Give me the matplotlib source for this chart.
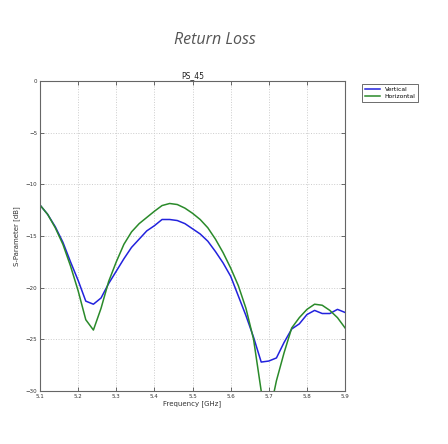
import numpy as np
from matplotlib import pyplot as plt

freq = [5.10, 5.12, 5.14, 5.16, 5.18, 5.20, 5.22, 5.24, 5.26, 5.28,
        5.30, 5.32, 5.34, 5.36, 5.38, 5.40, 5.42, 5.44, 5.46, 5.48,
        5.50, 5.52, 5.54, 5.56, 5.58, 5.60, 5.62, 5.64, 5.66, 5.68,
        5.70, 5.72, 5.74, 5.76, 5.78, 5.80, 5.82, 5.84, 5.86, 5.88, 5.90]

vertical = [-12.0, -12.9, -14.1, -15.6, -17.5, -19.3, -21.3, -21.6, -21.0, -19.6,
            -18.4, -17.2, -16.1, -15.3, -14.5, -14.0, -13.4, -13.4, -13.5, -13.8,
            -14.3, -14.8, -15.5, -16.5, -17.6, -18.9, -20.8, -22.7, -24.8, -27.2,
            -27.1, -26.8, -25.3, -24.0, -23.5, -22.6, -22.2, -22.5, -22.5, -22.1, -22.4]

horizontal = [-12.0, -12.9, -14.2, -15.8, -17.9, -20.3, -23.1, -24.1, -22.0, -19.4,
              -17.5, -15.8, -14.6, -13.8, -13.2, -12.6, -12.05, -11.85, -11.95, -12.3,
              -12.8, -13.4, -14.2, -15.3, -16.6, -18.1, -19.8, -22.0, -25.0, -30.0,
              -32.5, -29.0, -26.3, -23.9, -22.9, -22.1, -21.6, -21.7, -22.2, -22.9, -23.9]

xticks = [5.1, 5.2, 5.3, 5.4, 5.5, 5.6, 5.7, 5.8, 5.9]
yticks = [0, -5, -10, -15, -20, -25, -30]

fig = plt.figure(figsize=(4.48, 4.44), dpi=100)
fig.text(0.48, 0.91, "Return Loss", fontsize=11.5, style='italic',
         family='Open Sans', color='#555555', ha='center', va='center')

ax = fig.add_axes([0.0893, 0.1194, 0.681, 0.698])
ax.plot(freq, vertical, color='#2222dd', lw=1.1, label='Vertical')
ax.plot(freq, horizontal, color='#2a8a2a', lw=1.1, label='Horizontal')

ax.set_xlim(5.1, 5.9)
ax.set_ylim(-30, 0)
ax.set_xticks(xticks)
ax.set_yticks(yticks)
ax.set_xticklabels([str(t) for t in xticks])
ax.set_yticklabels(["\u2212%d" % -t if t else "0" for t in yticks])
ax.tick_params(labelsize=4, direction='in', length=3, width=0.5,
               top=True, right=True, colors='#333333', pad=2)
ax.grid(True, color='#cccccc', linestyle=':', linewidth=0.7)
for s in ax.spines.values():
    s.set_color('#666666')
    s.set_linewidth(0.8)

ax.set_title("PS_45", fontsize=5.5, pad=2, color='#222222')
ax.set_xlabel("Frequency [GHz]", fontsize=5, labelpad=1, color='#333333')
ax.set_ylabel("S-Parameter [dB]", fontsize=5, labelpad=4, color='#333333')

leg = ax.legend(loc='upper left', bbox_to_anchor=(1.045, 1.0), fontsize=4.3,
                fancybox=False, edgecolor='#555555', handlelength=2.5,
                borderpad=0.5, labelspacing=0.35, framealpha=1)
leg.get_frame().set_linewidth(0.6)

fig.savefig("out.png", dpi=100)
